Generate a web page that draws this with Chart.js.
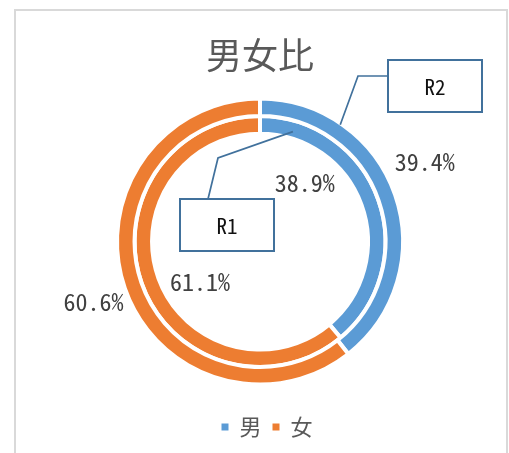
<!DOCTYPE html>
<html lang="ja">
<head>
<meta charset="utf-8">
<title>男女比</title>
<script src="https://cdn.jsdelivr.net/npm/chart.js@4/dist/chart.umd.min.js"></script>
<style>
    html, body { margin: 0; padding: 0; background: #fff; }
</style>
</head>
<body>
<canvas id="doughnut_ratio" width="509" height="453"></canvas>
<script>
const categories = ['男', '女'];
const ringNames = ['R2', 'R1'];        // Chart.js puts the first dataset outside
const r2Values = [39.4, 60.6];
const r1Values = [38.9, 61.1];
const sliceColors = ['#5b9bd5', '#ed7d31'];

const CJK = '"Noto Sans CJK JP", "Noto Sans CJK SC", sans-serif';
const MONO = '"Noto Sans Mono CJK JP", "Liberation Mono", monospace';

// grey frame round the whole chart
const framePlugin = {
    id: 'frame',
    beforeDraw(chart) {
        let ctx = chart.ctx;
        ctx.save();
        ctx.fillStyle = '#fff';
        ctx.fillRect(0, 0, chart.width, chart.height);
        ctx.strokeStyle = '#d9d9d9';
        ctx.lineWidth = 2;
        ctx.strokeRect(15, 10, 492, 500);
        ctx.restore();
    },
    afterLayout(chart) {
        // legend sits a little right of the ring centre
        chart.legend.left += 7;
        chart.legend.right += 7;
    }
};

// percentage next to each slice, turned / pushed out from the slice middle
const percentPlugin = {
    id: 'percent',
    afterDatasetsDraw(chart) {
        let ctx = chart.ctx;
        ctx.save();
        ctx.font = `24px ${MONO}`;
        ctx.fillStyle = '#404040';
        ctx.textAlign = 'center';
        ctx.textBaseline = 'middle';
        chart.data.datasets.forEach((dataset, di) => {
            let meta = chart.getDatasetMeta(di);
            meta.data.forEach((arc, i) => {
                let p = arc.getProps(['x', 'y', 'startAngle', 'endAngle']);
                let spot = dataset.labelSpots[i];
                let a = (p.startAngle + p.endAngle) / 2 + spot.turn * Math.PI / 180;
                let x = p.x + Math.cos(a) * spot.dist;
                let y = p.y + Math.sin(a) * spot.dist;
                ctx.fillText(`${dataset.data[i].toFixed(1)}%`, x, y, 62);
            });
        });
        ctx.restore();
    }
};

// boxed series names with a leader line onto their ring
const callouts = [
    { ring: 0, slice: 0, along: 0.243, depth: 0.93, text: 'R2',
      box: { x: 388, y: 60, w: 94, h: 52 }, exit: { x: 388, y: 76 }, elbow: { x: 358, y: 76 } },
    { ring: 1, slice: 0, along: 0.119, depth: 0.39, text: 'R1',
      box: { x: 180, y: 199, w: 94, h: 52 }, exit: { x: 208, y: 199 }, elbow: { x: 218, y: 158 } }
];

const calloutPlugin = {
    id: 'callouts',
    afterDraw(chart) {
        let ctx = chart.ctx;
        ctx.save();
        callouts.forEach((c) => {
            let arc = chart.getDatasetMeta(c.ring).data[c.slice];
            let p = arc.getProps(['x', 'y', 'startAngle', 'endAngle', 'innerRadius', 'outerRadius']);
            let a = p.startAngle + (p.endAngle - p.startAngle) * c.along;
            let r = p.innerRadius + (p.outerRadius - p.innerRadius) * c.depth;
            ctx.strokeStyle = '#41719c';
            ctx.lineWidth = 1.7;
            ctx.beginPath();
            ctx.moveTo(c.exit.x, c.exit.y);
            ctx.lineTo(c.elbow.x, c.elbow.y);
            ctx.lineTo(p.x + Math.cos(a) * r, p.y + Math.sin(a) * r);
            ctx.stroke();

            ctx.fillStyle = '#fff';
            ctx.fillRect(c.box.x, c.box.y, c.box.w, c.box.h);
            ctx.lineWidth = 2;
            ctx.strokeRect(c.box.x, c.box.y, c.box.w, c.box.h);
            ctx.fillStyle = '#111';
            ctx.font = `21px ${MONO}`;
            ctx.textAlign = 'center';
            ctx.textBaseline = 'middle';
            ctx.fillText(c.text, c.box.x + c.box.w / 2, c.box.y + c.box.h / 2 + 1);
        });
        ctx.restore();
    }
};

function drawRatio() {
    let canvas = document.querySelector('#doughnut_ratio');
    new Chart(canvas, {
        type: 'doughnut',
        data: {
            labels: categories,
            datasets: [{
                label: ringNames[0],
                data: r2Values,
                backgroundColor: sliceColors,
                borderColor: '#fff',
                borderWidth: 4,
                labelSpots: [{ turn: -6.8, dist: 183 }, { turn: -0.7, dist: 177 }]
            }, {
                label: ringNames[1],
                data: r1Values,
                backgroundColor: sliceColors,
                borderColor: '#fff',
                borderWidth: 4,
                labelSpots: [{ turn: -32.7, dist: 74 }, { turn: -13.7, dist: 72 }]
            }]
        },
        options: {
            responsive: false,
            animation: false,
            devicePixelRatio: 1,
            radius: 143,
            cutout: '75.5%',
            layout: {
                padding: { top: 0, left: 11, right: 0, bottom: 5 }
            },
            plugins: {
                title: {
                    display: true,
                    text: '男女比',
                    color: '#595959',
                    font: { family: CJK, size: 36, weight: 'normal' },
                    padding: { top: 34, bottom: 1 }
                },
                legend: {
                    position: 'bottom',
                    labels: {
                        boxWidth: 7,
                        boxHeight: 7,
                        padding: 11,
                        color: '#595959',
                        font: { family: CJK, size: 22 },
                        // plain squares, without the white slice border
                        generateLabels(chart) {
                            let items = Chart.overrides.doughnut.plugins.legend.labels.generateLabels(chart);
                            return items.map((item) => ({ ...item, lineWidth: 0, strokeStyle: item.fillStyle }));
                        }
                    }
                },
                tooltip: { enabled: false }
            }
        },
        plugins: [framePlugin, percentPlugin, calloutPlugin]
    });
}

drawRatio();
</script>
</body>
</html>
